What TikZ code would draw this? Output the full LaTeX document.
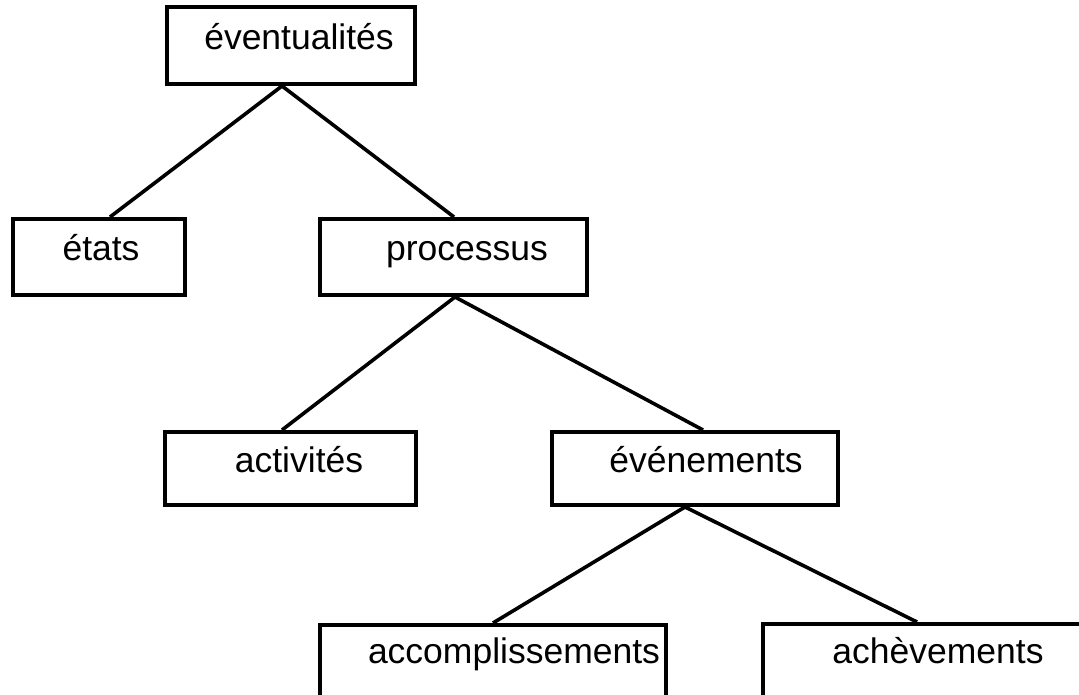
\documentclass[tikz,border=0pt]{standalone}
\usepackage{fontspec}
\setmainfont{Liberation Sans}
\begin{document}
\begin{tikzpicture}[x=1pt, y=-1pt,
  box/.style={draw=black, line width=4pt, fill=none, inner sep=0pt, rectangle},
  lbl/.style={anchor=base, inner sep=0pt, font=\fontsize{35.5}{42}\selectfont},
  branch/.style={draw=black, line width=3.6pt}]
  % page frame; everything outside is clipped
  \clip (0,0) rectangle (1079,695);
  \fill[white] (0,0) rectangle (1079,695);

  % boxes
  \node[box, minimum width=248pt, minimum height=77pt] (ev)  at (291,45.5)  {};
  \node[box, minimum width=172pt, minimum height=76pt] (et)  at (99,257)    {};
  \node[box, minimum width=267pt, minimum height=76pt] (pr)  at (453.5,257) {};
  \node[box, minimum width=251pt, minimum height=73pt] (ac)  at (290.5,468.5) {};
  \node[box, minimum width=286pt, minimum height=73pt] (evn) at (695,468.5) {};
  \node[box, minimum width=346pt, minimum height=74pt] (acc) at (493,662)   {};
  \node[box, minimum width=334pt, minimum height=74pt] (ach) at (930,661)   {};

  % labels
  \node[lbl] (tev)  at (299,50)  {éventualités};
  \node[lbl] (tet)  at (101,261) {états};
  \node[lbl] (tpr)  at (467,261) {processus};
  \node[lbl] (tac)  at (299,472) {activités};
  \node[lbl] (tevn) at (706,472) {événements};
  \node[lbl] (tacc) at (514,663) {accomplissements};
  \node[lbl] (tach) at (938,663) {achèvements};

  % branches of the tree
  \draw[branch] ([xshift=-9pt]ev.south)  -- ([xshift=11pt]et.north);
  \draw[branch] ([xshift=-9pt]ev.south)  -- ([xshift=0.5pt]pr.north);
  \draw[branch] ([xshift=1.5pt]pr.south) -- ([xshift=-8.5pt]ac.north);
  \draw[branch] ([xshift=1.5pt]pr.south) -- ([xshift=8pt]evn.north);
  \draw[branch] ([xshift=-10pt]evn.south) -- (acc.north);
  \draw[branch] ([xshift=-10pt]evn.south) -- ([xshift=-13pt]ach.north);
\end{tikzpicture}
\end{document}
